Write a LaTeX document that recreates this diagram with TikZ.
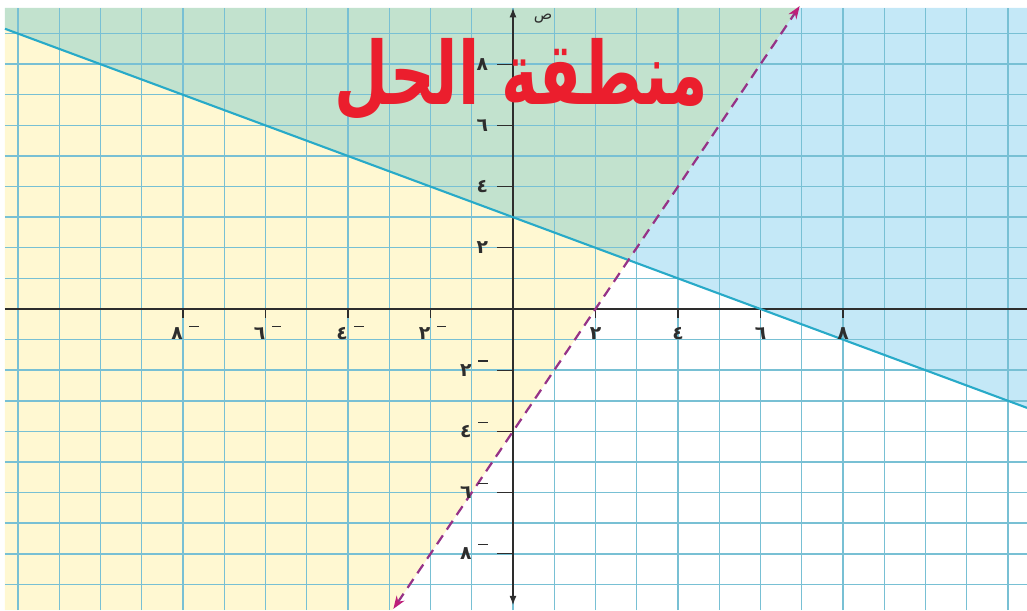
\documentclass[tikz,border=0pt]{standalone}
\usepackage{fontspec}
\newfontfamily\arfont[Script=Arabic]{DejaVu Sans}
\TeXXeTstate=1
\usetikzlibrary{arrows.meta}
\definecolor{gridc}{RGB}{120,192,212}
\definecolor{yel}{RGB}{255,248,210}
\definecolor{blu}{RGB}{196,232,247}
\definecolor{grn}{RGB}{194,226,206}
\definecolor{bline}{RGB}{40,170,200}
\definecolor{dline}{RGB}{150,50,135}
\definecolor{dtip}{RGB}{190,30,120}
\definecolor{axisc}{RGB}{45,45,45}
\definecolor{titler}{RGB}{235,30,45}
\tikzset{
  gridline/.style={gridc, line width=1.2pt},
  axisline/.style={axisc, line width=1.1pt},
  tickline/.style={axisc, line width=1pt},
  lbl/.style={text=axisc, font=\arfont\bfseries\fontsize{16}{18}\selectfont, inner sep=0pt},
  minusmark/.style={fill=axisc, minimum width=8pt, minimum height=1.1pt, inner sep=0pt},
}
\begin{document}
\begin{tikzpicture}[x=1.2375cm,y=0.918cm]
\useasboundingbox (-12.436,-9.837) rectangle (12.461,10.098);
\coordinate (TL) at (-12.315,9.837);
\coordinate (TR) at (12.461,9.837);
\coordinate (BR) at (12.461,-9.837);
\coordinate (BL) at (-12.315,-9.837);
\coordinate (L1) at (-12.315,9.1575);
\coordinate (R1) at (12.461,-3.2305);
\coordinate (P) at (2.8,1.6);
\coordinate (Dt) at (6.9185,9.837);
\coordinate (Db) at (-2.9185,-9.837);
\coordinate (DT) at (6.95,9.9);
\coordinate (DB) at (-2.9,-9.8);
\coordinate (Xl) at (-12.315,0);
\coordinate (Xr) at (12.461,0);
\coordinate (Yb) at (0,-9.68);
\coordinate (Yt) at (0,9.837);
% regions
\fill[white] (TL) rectangle (BR);
\fill[yel] (L1) -- (P) -- (Db) -- (BL) -- cycle;
\fill[grn] (TL) -- (L1) -- (P) -- (Dt) -- cycle;
\fill[blu] (Dt) -- (P) -- (R1) -- (TR) -- cycle;
% grid
\foreach \i in {-12,...,12} \draw[gridline] (\i,-9.837) -- (\i,9.837);
\foreach \j in {-9,...,9} \draw[gridline] (-12.315,\j) -- (12.461,\j);
% axes
\draw[axisline] (Xl) -- (Xr);
\draw[axisline,{Latex[length=8pt,width=6pt]}-{Latex[length=8pt,width=6pt]}] (Yb) -- (Yt);
% ticks
\foreach \i in {-8,-6,...,8} \draw[tickline] (\i,0) -- (\i,-0.29);
\foreach \j in {-8,-6,...,8} \draw[tickline] (0,\j) -- (-0.38,\j);
% lines
\draw[bline, line width=1.8pt] (L1) -- (R1);
\draw[dline, line width=1.9pt, dash pattern=on 9pt off 6pt,
  {Stealth[color=dtip,length=11pt,width=8pt]}-{Stealth[color=dtip,length=11pt,width=8pt]}] (DB) -- (DT);
% labels
\foreach \v/\d in {2/٢,4/٤,6/٦,8/٨} {
  \node[lbl] (xp\v) at (\v,-0.8) {\d};
  \node[lbl] (xn\v) at (-\v-0.14,-0.8) {\d};
  \node[minusmark] (xm\v) at (-\v+0.27,-0.58) {};
  \node[lbl, anchor=east] (yp\v) at (-0.6,\v) {\d};
  \node[lbl] (yn\v) at (-1.14,-\v) {\d};
  \node[minusmark] (ym\v) at (-0.73,-\v+0.3) {};
}
\node[lbl, font=\arfont\fontsize{13}{15}\selectfont] (ylab) at (0.73,9.5) {ص};
% title
\node[text=titler, font=\arfont\bfseries, anchor=base, inner sep=0pt] (title) at (0.2,6.67)
  {\scalebox{1}[1.4]{\resizebox{11.2cm}{!}{\beginR منطقة الحل\endR}}};
\end{tikzpicture}
\end{document}
